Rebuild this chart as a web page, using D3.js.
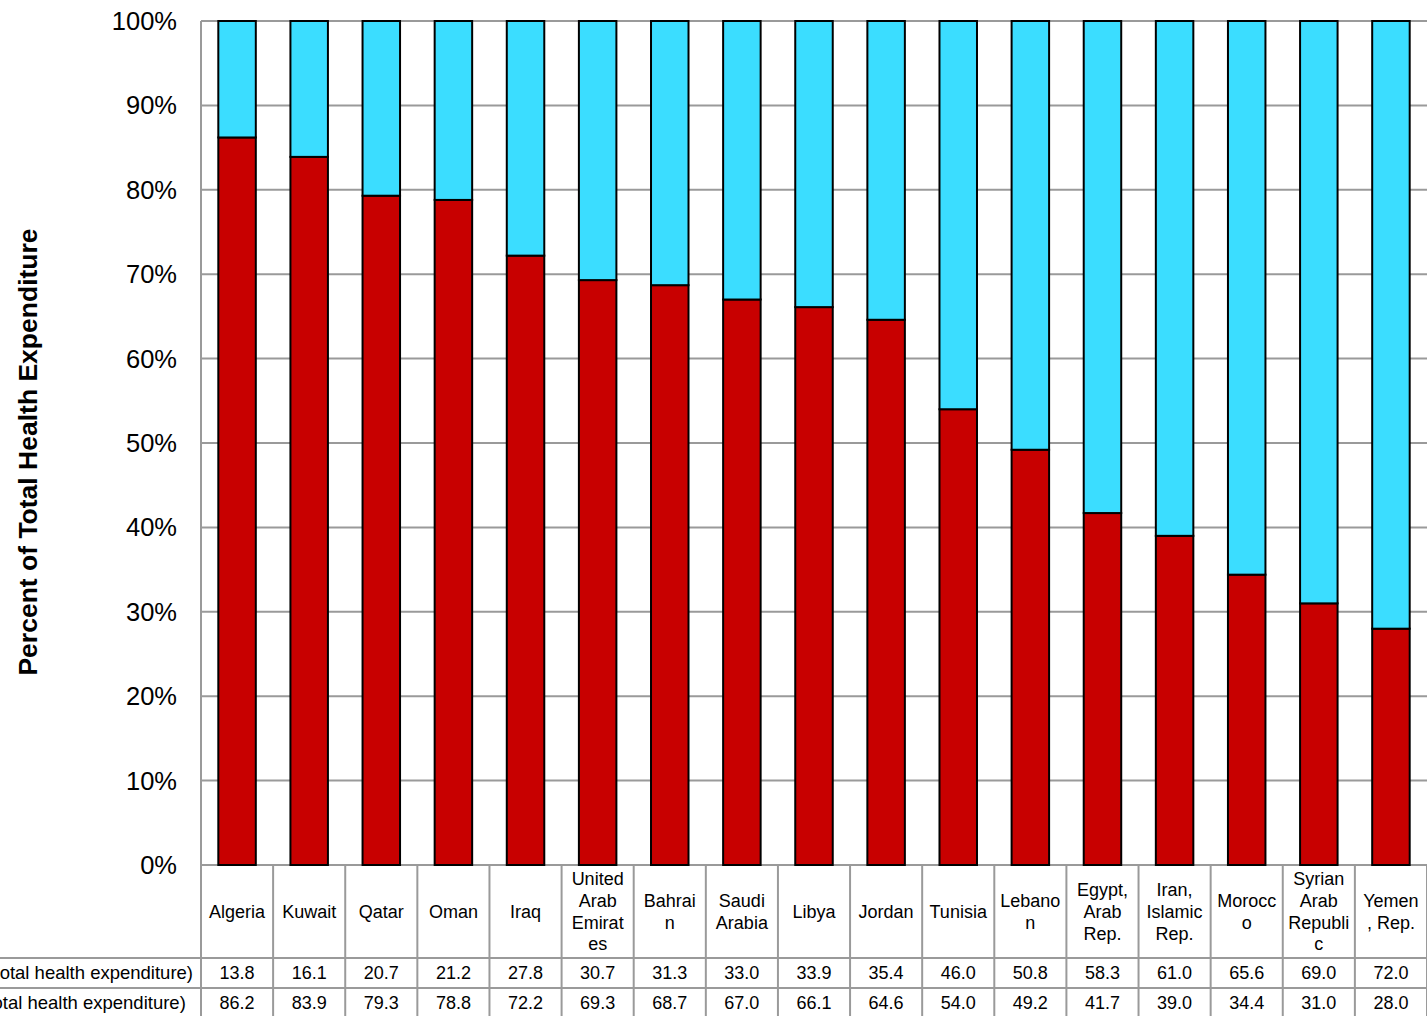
<!DOCTYPE html>
<html><head><meta charset="utf-8">
<script src="https://cdn.jsdelivr.net/npm/d3@7"></script>
<style>html,body{margin:0;padding:0;background:#fff;overflow:hidden}svg{display:block;font-family:"Liberation Sans",Arial,sans-serif}</style>
</head><body><svg id="c" width="1427" height="1016"></svg>
<script>
const countries = ["Algeria","Kuwait","Qatar","Oman","Iraq","United Arab Emirates","Bahrain","Saudi Arabia","Libya","Jordan","Tunisia","Lebanon","Egypt, Arab Rep.","Iran, Islamic Rep.","Morocco","Syrian Arab Republic","Yemen, Rep."];
const headerLines = [["Algeria"],["Kuwait"],["Qatar"],["Oman"],["Iraq"],["United","Arab","Emirat","es"],["Bahrai","n"],["Saudi","Arabia"],["Libya"],["Jordan"],["Tunisia"],["Lebano","n"],["Egypt,","Arab","Rep."],["Iran,","Islamic","Rep."],["Morocc","o"],["Syrian","Arab","Republi","c"],["Yemen",", Rep."]];
const privateShare = [13.8,16.1,20.7,21.2,27.8,30.7,31.3,33.0,33.9,35.4,46.0,50.8,58.3,61.0,65.6,69.0,72.0];
const publicShare  = [86.2,83.9,79.3,78.8,72.2,69.3,68.7,67.0,66.1,64.6,54.0,49.2,41.7,39.0,34.4,31.0,28.0];
const rowLabels = ["Health expenditure, private (% of total health expenditure)","Health expenditure, public (% of total health expenditure)"];
const yTicks = [0,10,20,30,40,50,60,70,80,90,100];
const yTitle = "Percent of Total Health Expenditure";

const svg = d3.select("#c");
const L = 201, R = 1427, T = 21, B = 865;
const x = d3.scaleBand().domain(countries).range([L, R]).paddingInner(0.48).paddingOuter(0.24);
const col = d3.scaleBand().domain(countries).range([L, R]);
const y = d3.scaleLinear().domain([0,100]).range([B, T]);
const grid = "#9a9a9a";

// gridlines
svg.append("g").selectAll("line").data(yTicks).join("line")
  .attr("x1", L).attr("x2", R).attr("y1", d=>y(d)).attr("y2", d=>y(d))
  .attr("stroke", grid).attr("stroke-width", 2);
svg.append("line").attr("x1", L).attr("x2", L).attr("y1", T).attr("y2", 1016).attr("stroke", grid).attr("stroke-width", 2);

// y tick labels
svg.append("g").selectAll("text").data(yTicks).join("text")
  .attr("x", 177).attr("y", d=>y(d)).attr("dy", "0.35em").attr("text-anchor","end")
  .attr("font-size", 25.5).attr("fill","#000").text(d=>d+"%");

// y title
svg.append("text").attr("transform", `translate(37,452) rotate(-90)`)
  .attr("text-anchor","middle").attr("font-size", 26.5).attr("font-weight","bold").text(yTitle);

// bars
const g = svg.append("g");
g.selectAll("rect.pub").data(countries).join("rect").attr("class","pub")
  .attr("x", d=>x(d)).attr("width", x.bandwidth())
  .attr("y", (d,i)=>y(publicShare[i])).attr("height", (d,i)=>y(0)-y(publicShare[i]))
  .attr("fill","#C80000").attr("stroke","#000").attr("stroke-width",2);
g.selectAll("rect.pri").data(countries).join("rect").attr("class","pri")
  .attr("x", d=>x(d)).attr("width", x.bandwidth())
  .attr("y", (d,i)=>y(publicShare[i]+privateShare[i])).attr("height", (d,i)=>y(publicShare[i])-y(publicShare[i]+privateShare[i]))
  .attr("fill","#3BDDFF").attr("stroke","#000").attr("stroke-width",2);

// data table
const row1 = 958, row2 = 988, bottom = 1016;
const tg = svg.append("g");
tg.selectAll("line.v").data(countries).join("line").attr("class","v")
  .attr("x1", d=>col(d)+col.bandwidth()).attr("x2", d=>col(d)+col.bandwidth())
  .attr("y1", B).attr("y2", bottom).attr("stroke", grid).attr("stroke-width", 2);
[row1, row2].forEach(yy => tg.append("line").attr("x1",0).attr("x2",R).attr("y1",yy).attr("y2",yy).attr("stroke",grid).attr("stroke-width",2));

// header labels
const hdr = tg.selectAll("text.h").data(countries).join("text").attr("class","h")
  .attr("text-anchor","middle").attr("font-size",18);
hdr.each(function(d,i){
  const lines = headerLines[i];
  const lh = 21.7, cy = (B+row1)/2;
  const y0 = cy - (lines.length-1)*lh/2;
  d3.select(this).selectAll("tspan").data(lines).join("tspan")
    .attr("x", col(d)+col.bandwidth()/2).attr("y",(l,j)=>y0+j*lh).attr("dy","0.35em").text(l=>l);
});
[privateShare, publicShare].forEach((arr, r) => {
  const cy = r===0 ? (row1+row2)/2 : (row2+bottom+2)/2;
  tg.selectAll("text.v"+r).data(countries).join("text").attr("class","v"+r)
    .attr("x", d=>col(d)+col.bandwidth()/2).attr("y", cy).attr("dy","0.35em")
    .attr("text-anchor","middle").attr("font-size",18).text((d,i)=>arr[i].toFixed(1));
});
// row labels (cut at left edge, as in the reference)
const rl = tg.selectAll("text.rl").data(rowLabels).join("text").attr("class","rl")
  .attr("y",(d,i)=> i===0 ? (row1+row2)/2 : (row2+bottom+2)/2).attr("dy","0.35em")
  .attr("font-size",18.5).text(d=>d);
const w0 = rl.nodes()[0].getComputedTextLength();
rl.attr("x", 193 - w0);
</script></body></html>
